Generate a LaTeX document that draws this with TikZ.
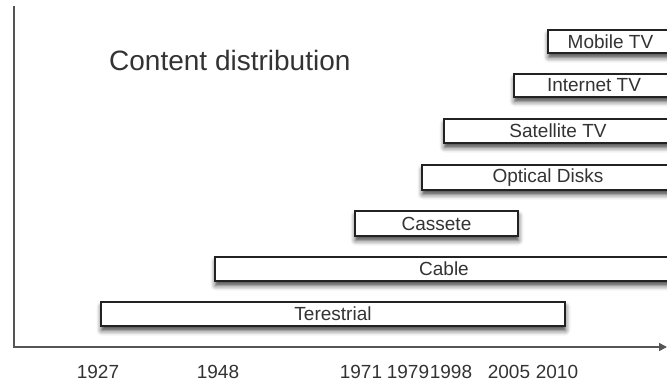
\documentclass[tikz,border=0pt]{standalone}
\usepackage{fontspec}
\setmainfont{Liberation Sans}
\usetikzlibrary{arrows.meta,shadows.blur}
\definecolor{ink}{HTML}{333333}
\definecolor{axisgray}{HTML}{555555}
\definecolor{boxline}{HTML}{222222}
\tikzset{
  period/.style={draw=boxline, line width=1.4pt, fill=white, inner sep=0pt,
    text=ink, font=\fontsize{19}{22}\selectfont,
    blur shadow={shadow xshift=0.5pt, shadow yshift=-4.5pt,
      shadow blur radius=5pt, shadow opacity=75}},
  year/.style={text=ink, font=\fontsize{19}{22}\selectfont, inner sep=0pt},
  axisline/.style={draw=axisgray, line width=1.6pt}
}
\begin{document}
\begin{tikzpicture}[x=1pt, y=-1pt]
  \useasboundingbox (0,0) rectangle (667,383);

  % axes
  \coordinate (ytop) at (14,6);
  \coordinate (origin) at (14,347);
  \coordinate (xend) at (667,347);
  \draw[axisline, -{Triangle[length=8pt, width=8pt]}] (ytop) -- (origin) -- (xend);

  % title
  \node[text=ink, font=\fontsize{28}{32}\selectfont, anchor=base west, inner sep=0pt]
    (title) at (109,70) {Content distribution};

  % technology periods
  \node[period, minimum width=125pt, minimum height=23pt] (mobile)    at (610.5,41.5) {Mobile TV};
  \node[period, minimum width=160pt, minimum height=23pt] (internet)  at (594,85.5)   {Internet TV};
  \node[period, minimum width=228pt, minimum height=24pt] (satellite) at (558,131)    {Satellite TV};
  \node[period, minimum width=252pt, minimum height=25pt] (optical)   at (548,177.5)  {Optical Disks};
  \node[period, minimum width=163pt, minimum height=25pt] (cassete)   at (436.5,223.5){Cassete};
  \node[period, minimum width=458pt, minimum height=24pt] (cable)     at (444,269)    {Cable};
  \node[period, minimum width=464pt, minimum height=24pt] (terestrial) at (333,314)   {Terestrial};

  % years
  \node[year] (y1927) at (98,372)  {1927};
  \node[year] (y1948) at (218,372) {1948};
  \node[year] (y1971) at (361,372) {1971};
  \node[year] (y1979) at (408,372) {1979};
  \node[year] (y1998) at (451,372) {1998};
  \node[year] (y2005) at (509,372) {2005};
  \node[year] (y2010) at (557,372) {2010};
\end{tikzpicture}
\end{document}
